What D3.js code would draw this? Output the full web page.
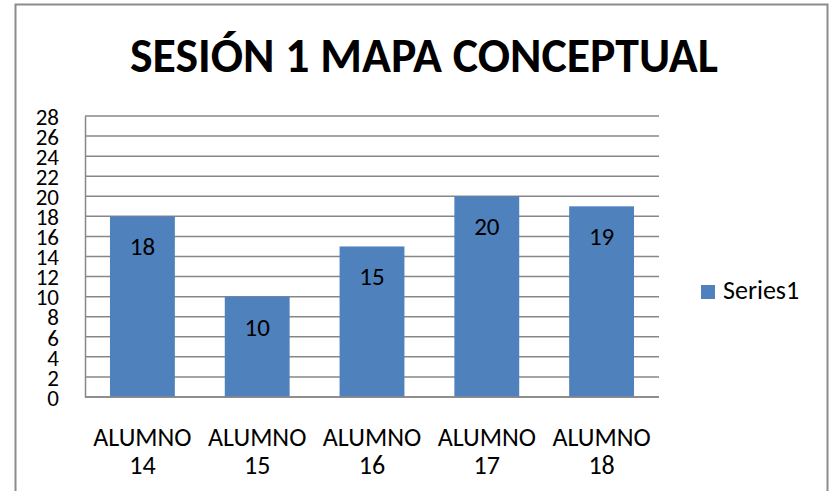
<!DOCTYPE html>
<html>
<head>
<meta charset="utf-8">
<script src="https://cdn.jsdelivr.net/npm/d3@7"></script>
<style>
  html, body { margin: 0; padding: 0; background: #fff; }
  svg { display: block; }
  text { font-family: Carlito, Lato, "Open Sans", sans-serif; fill: #000; }
</style>
</head>
<body>
<div id="chart"></div>
<script>
const title = 'SESIÓN 1 MAPA CONCEPTUAL'
const categories = [['ALUMNO', '14'], ['ALUMNO', '15'], ['ALUMNO', '16'], ['ALUMNO', '17'], ['ALUMNO', '18']]
const values = [18, 10, 15, 20, 19]
const yTicks = [0, 2, 4, 6, 8, 10, 12, 14, 16, 18, 20, 22, 24, 26, 28]
const seriesName = 'Series1'

const W = 833, H = 491
const margin = { top: 116, right: 174, bottom: 94, left: 85 }
const width = W - margin.left - margin.right
const height = H - margin.top - margin.bottom
const barColor = '#4f81bd'
const gridColor = '#878787'

const svg = d3.select('#chart').append('svg')
    .attr('width', W)
    .attr('height', H)

// outer chart border
svg.append('rect')
    .attr('x', 15.5).attr('y', 4.5)
    .attr('width', 812).attr('height', 500)
    .attr('fill', '#fff')
    .attr('stroke', '#8c8c8c')
    .attr('stroke-width', 2)

const titleText = svg.append('text')
    .attr('x', 424)
    .attr('y', 72)
    .attr('text-anchor', 'middle')
    .style('font-weight', 'bold')
    .style('font-size', '45px')
    .text(title)
// stretch title to the reference width
const tw = titleText.node().getComputedTextLength()
titleText.style('font-size', (45 * 588 / tw) + 'px')

const g = svg.append('g')
    .attr('transform', 'translate(' + margin.left + ',' + margin.top + ')')

const x = d3.scaleBand()
    .domain(categories.map((d, i) => i))
    .range([0, width])
    .paddingInner(0.435)
    .paddingOuter(0.2175)

const y = d3.scaleLinear()
    .domain([0, 28])
    .range([height, 0])

// gridlines
g.append('g')
    .selectAll('line')
    .data(yTicks)
    .enter().append('line')
        .attr('x1', 0)
        .attr('x2', width)
        .attr('y1', d => y(d))
        .attr('y2', d => y(d))
        .attr('stroke', gridColor)
        .attr('stroke-width', 1.5)

// bars
g.append('g')
    .selectAll('rect')
    .data(values)
    .enter().append('rect')
        .attr('x', (d, i) => x(i))
        .attr('y', d => y(d))
        .attr('width', x.bandwidth())
        .attr('height', d => height - y(d))
        .attr('fill', barColor)

// value labels
g.append('g')
    .selectAll('text')
    .data(values)
    .enter().append('text')
        .attr('x', (d, i) => x(i) + x.bandwidth() / 2)
        .attr('y', d => y(d) + 39)
        .attr('text-anchor', 'middle')
        .style('font-size', '25px')
        .text(d => d)

// y axis
const yAxis = d3.axisLeft(y)
    .tickValues(yTicks)
    .tickSize(0)
    .tickPadding(26)

const yg = g.append('g').call(yAxis)
yg.select('.domain').attr('stroke', gridColor).attr('stroke-width', 1.5)
yg.selectAll('text')
    .style('font-size', '23px')
    .style('font-family', null)
    .attr('dy', '0.36em')

// x axis line
g.append('line')
    .attr('x1', 0).attr('x2', width)
    .attr('y1', height).attr('y2', height)
    .attr('stroke', gridColor)
    .attr('stroke-width', 1.5)

// category labels
const xl = g.append('g')
    .selectAll('text')
    .data(categories)
    .enter().append('text')
        .attr('x', (d, i) => x(i) + x.bandwidth() / 2)
        .attr('y', height + 49)
        .attr('text-anchor', 'middle')
        .style('font-size', '26px')
xl.append('tspan')
    .attr('x', (d, i) => x(i) + x.bandwidth() / 2)
    .text(d => d[0])
xl.append('tspan')
    .attr('x', (d, i) => x(i) + x.bandwidth() / 2)
    .attr('dy', 28)
    .text(d => d[1])

// legend
const legend = svg.append('g')
    .attr('transform', 'translate(701,285)')
legend.append('rect')
    .attr('width', 14).attr('height', 14)
    .attr('fill', barColor)
legend.append('text')
    .attr('x', 22)
    .attr('y', 14)
    .style('font-size', '26px')
    .text(seriesName)
</script>
</body>
</html>
